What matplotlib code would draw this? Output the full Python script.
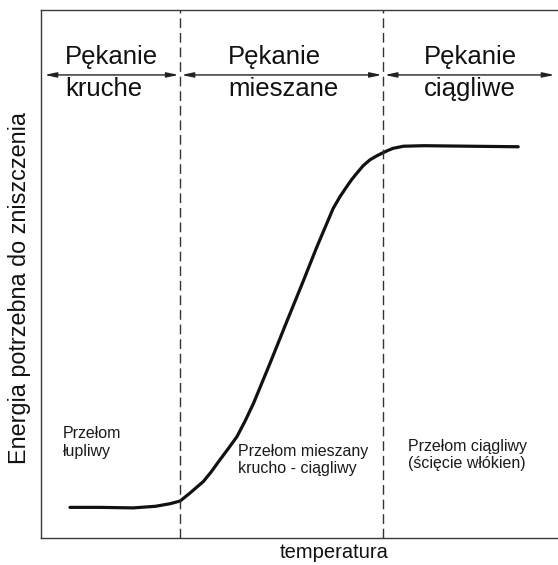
import matplotlib.pyplot as plt

plt.rcParams['font.family'] = ['Liberation Sans', 'DejaVu Sans']

# Curve (temperature 0-100, energy 0-100, arbitrary units)
temperature = [5.6, 11.4, 17.8, 22.1, 25.0, 26.9, 28.8, 31.4, 32.9, 34.6, 36.2,
               37.9, 39.5, 41.1, 44.3, 47.5, 50.7, 53.3, 56.5, 57.8, 59.1, 60.1,
               61.1, 62.3, 63.6, 64.8, 66.0, 67.1, 68.1, 69.1, 70.1, 74.0, 83.0,
               92.3]
energy = [5.8, 5.8, 5.7, 6.0, 6.5, 7.0, 8.5, 10.7, 12.5, 14.8, 16.9,
          19.2, 22.2, 25.5, 33.1, 40.9, 48.6, 55.0, 62.4, 64.6, 66.5, 67.9,
          69.1, 70.5, 71.6, 72.3, 72.9, 73.4, 73.8, 74.0, 74.2, 74.3, 74.2,
          74.1]

# Region borders (temperature) and region labels
borders = [26.9, 66.2]
zone_edges = [0.4, 26.9, 66.2, 99.6]
zone_titles = ['Pękanie', 'Pękanie', 'Pękanie']
zone_names = ['kruche', 'mieszane', 'ciągliwe']
zone_text_x = [4.6, 36.2, 74.1]
fracture_texts = ['Przełom\nłupliwy',
                  'Przełom mieszany\nkrucho - ciągliwy',
                  'Przełom ciągliwy\n(ścięcie włókien)']
fracture_x = [4.3, 38.1, 71.0]
fracture_y = [18.1, 14.8, 15.7]

fig = plt.figure(figsize=(5.58, 5.65), dpi=100)
ax = fig.add_axes([0.0735, 0.0478, 0.9265, 0.9345])
ax.set_xlim(0, 100)
ax.set_ylim(0, 100)

for side in ['left', 'bottom', 'top']:
    ax.spines[side].set_color('#3a3a3a')
    ax.spines[side].set_linewidth(1.0)
ax.spines['right'].set_visible(False)
ax.set_xticks([])
ax.set_yticks([])

# main curve
ax.plot(temperature, energy, color='#111111', linewidth=2.3,
        solid_joinstyle='round', solid_capstyle='round')

# dashed region borders
for b in borders:
    ax.axvline(b, color='#333333', linewidth=1.0, dashes=(7, 3.5))

# double arrows between borders
arrow_y = 87.7
for i in range(3):
    ax.annotate('', xy=(zone_edges[i] + 0.3, arrow_y),
                xytext=(zone_edges[i + 1] - 0.3, arrow_y),
                arrowprops=dict(arrowstyle='<|-|>,head_length=0.7,head_width=0.15',
                                color='#222222', linewidth=1.0,
                                shrinkA=0, shrinkB=0, mutation_scale=10))

# region titles
for i in range(3):
    ax.text(zone_text_x[i], 89.8, zone_titles[i], fontsize=18.5,
            ha='left', va='baseline', color='#111111')
    ax.text(zone_text_x[i], 83.7, zone_names[i], fontsize=18.5,
            ha='left', va='baseline', color='#111111')

# fracture descriptions
for i in range(3):
    ax.text(fracture_x[i], fracture_y[i], fracture_texts[i], fontsize=11.5,
            ha='left', va='center', linespacing=1.2, color='#1a1a1a')

ax.set_xlabel('temperatura', fontsize=14.5, va='center', color='#111111')
ax.xaxis.set_label_coords(0.567, -0.028)
ax.set_ylabel('Energia potrzebna do zniszczenia', fontsize=16.8, va='center',
              color='#111111')
ax.yaxis.set_label_coords(-0.041, 0.474)

fig.savefig('out.png', dpi=100)
